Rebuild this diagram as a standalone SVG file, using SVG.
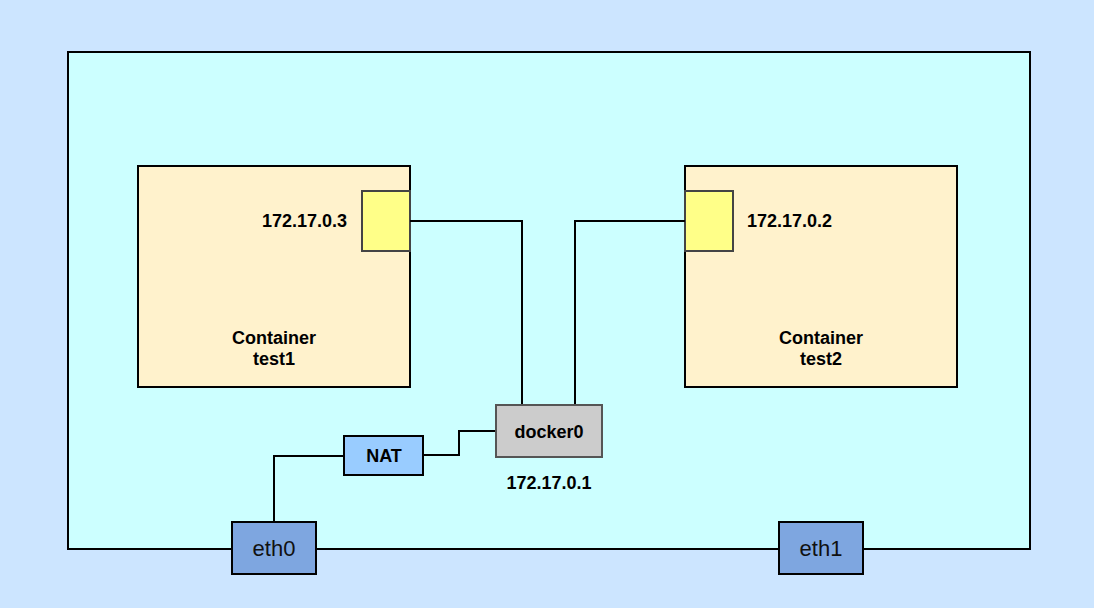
<svg xmlns="http://www.w3.org/2000/svg" width="1094" height="608" viewBox="0 0 1094 608">
<style>
.b{stroke:#000;stroke-width:2}
.t{font-family:"Liberation Sans",Arial,sans-serif;font-weight:bold;font-size:18px;fill:#000}
.e{font-family:"Liberation Sans",Arial,sans-serif;font-size:22px;fill:#111}
.w{fill:none;stroke:#000;stroke-width:2}
</style>
<rect x="0" y="0" width="1094" height="608" fill="#cce5ff"/>
<g id="host"><rect x="68" y="52" width="962" height="497" fill="#ccffff" class="b"/></g>
<g id="test1">
<rect x="138" y="166" width="272" height="221" fill="#fff2cc" class="b"/>
<text class="t" x="274" y="344" text-anchor="middle">Container</text>
<text class="t" x="274" y="365" text-anchor="middle">test1</text>
</g>
<g id="test2">
<rect x="685" y="166" width="272" height="221" fill="#fff2cc" class="b"/>
<text class="t" x="821" y="344" text-anchor="middle">Container</text>
<text class="t" x="821" y="365" text-anchor="middle">test2</text>
</g>
<g id="veth1">
<rect x="362" y="191" width="48" height="60" fill="#ffff88" stroke="#444" stroke-width="2"/>
<text class="t" x="347" y="227" text-anchor="end">172.17.0.3</text>
</g>
<g id="veth2">
<rect x="685" y="191" width="48" height="60" fill="#ffff88" stroke="#444" stroke-width="2"/>
<text class="t" x="747" y="227">172.17.0.2</text>
</g>
<g id="connectors">
<polyline class="w" points="410,221 522,221 522,405"/>
<polyline class="w" points="685,221 575,221 575,405"/>
<polyline class="w" points="423,455 459,455 459,431 496,431"/>
<polyline class="w" points="344,456 274,456 274,522"/>
</g>
<g id="docker0">
<rect x="496" y="405" width="106" height="52" fill="#cccccc" stroke="#555" stroke-width="2"/>
<text class="t" x="549" y="438" text-anchor="middle">docker0</text>
<text class="t" x="549" y="489" text-anchor="middle">172.17.0.1</text>
</g>
<g id="nat">
<rect x="344" y="436" width="79" height="39" fill="#99ccff" class="b"/>
<text class="t" x="384" y="462" text-anchor="middle">NAT</text>
</g>
<g id="eth0">
<rect x="232" y="522" width="84" height="52" fill="#7ea6e0" class="b"/>
<text class="e" x="274" y="556" text-anchor="middle">eth0</text>
</g>
<g id="eth1">
<rect x="779" y="522" width="84" height="52" fill="#7ea6e0" class="b"/>
<text class="e" x="821" y="556" text-anchor="middle">eth1</text>
</g>
</svg>
